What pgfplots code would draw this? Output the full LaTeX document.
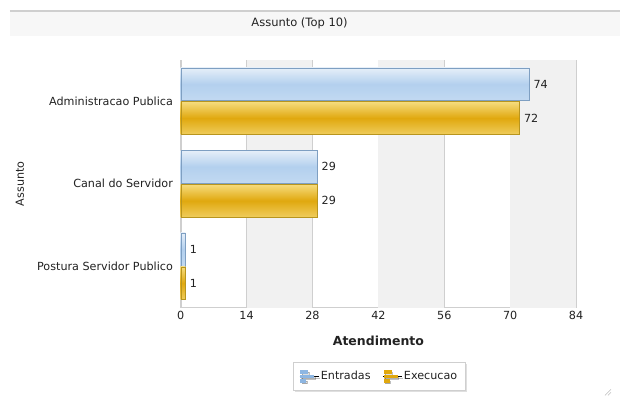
\documentclass[border=0pt]{standalone}
\usepackage{pgfplots}
\pgfplotsset{compat=1.18}
\usepackage{fontspec}
\setmainfont{DejaVu Sans}
\usetikzlibrary{shadows}

\definecolor{bluefill}{HTML}{B3D0EE}
\definecolor{bluetop}{HTML}{E6EFF9}
\definecolor{blueedge}{HTML}{7E9FC2}
\definecolor{blueicon}{HTML}{8DB6E2}
\definecolor{yelfill}{HTML}{E0A80E}
\definecolor{yeltop}{HTML}{F6DC7E}
\definecolor{yeledge}{HTML}{B8951E}
\definecolor{band}{HTML}{F1F1F1}
\definecolor{gridc}{HTML}{CFCFCF}
\definecolor{txt}{HTML}{222222}

% small bar-chart legend icon
\newcommand{\legicon}[1]{%
  \path (-1pt,0pt) -- (18pt,0pt);
  \fill[#1] (0pt,3pt) rectangle (7pt,5.8pt);
  \fill[#1] (0pt,-1.3pt) rectangle (13pt,1.4pt);
  \fill[#1] (0pt,-5.8pt) rectangle (5pt,-3pt);
}

\pgfplotsset{
  blue bar/.style={draw=blueedge, top color=bluetop, bottom color=bluefill!80!white,
                   middle color=bluefill, bar shift=17pt, fill=bluefill, forget plot},
  yel bar/.style={draw=yeledge, top color=yeltop, bottom color=yeltop!70!yelfill,
                  middle color=yelfill, bar shift=-17pt, fill=yelfill, forget plot},
}

\begin{document}
\begin{tikzpicture}[font=\fontsize{11.2}{13}\selectfont, text=txt]
  % canvas 621 x 402
  \fill[white] (0,0) rectangle (621pt,402pt);
  % title band
  \fill[band!60] (10pt,366pt) rectangle (621pt,390pt);
  \draw[gridc, line width=2pt] (10pt,391pt) -- (621pt,391pt);
  \node at (300pt,379pt) {\fontsize{11.5}{13}\selectfont Assunto (Top 10)};

  \begin{axis}[
      at={(181pt,94pt)}, anchor=south west,
      scale only axis,
      width=396pt, height=248pt,
      xmin=0, xmax=84,
      ymin=-0.5, ymax=2.5,
      xtick={0,14,28,42,56,70,84},
      ytick={0,1,2},
      yticklabels={Postura Servidor Publico, Canal do Servidor, Administracao Publica},
      /pgf/number format/assume math mode=true,
      tick style={draw=none},
      axis line style={draw=gridc},
      axis x line*=bottom,
      axis y line*=left,
      xmajorgrids=true,
      grid style={gridc, line width=0.8pt},
      xlabel={Atendimento},
      xlabel style={at={(axis description cs:0.5,-0.133)}, anchor=center,
                    font=\bfseries\fontsize{12.5}{14}\selectfont},
      ylabel={Assunto},
      ylabel style={at={(axis description cs:-0.407,0.5)}, anchor=center},
      xbar,
      bar width=33pt,
      nodes near coords,
      nodes near coords style={anchor=west, xshift=1pt},
      legend style={at={(axis description cs:0.5025,-0.278)}, anchor=center,
                    legend columns=2, draw=gridc, fill=white,
                    drop shadow={opacity=0.25, shadow xshift=1.5pt, shadow yshift=-1.5pt},
                    font=\fontsize{11.2}{13}\selectfont,
                    /tikz/every even column/.append style={column sep=10pt},
                    inner xsep=6pt, inner ysep=7pt},
    ]
    % alternating background bands
    \fill[band] (axis cs:14,-0.5) rectangle (axis cs:28,2.5);
    \fill[band] (axis cs:42,-0.5) rectangle (axis cs:56,2.5);
    \fill[band] (axis cs:70,-0.5) rectangle (axis cs:84,2.5);

    % Entradas
    \addplot[blue bar] coordinates {(74,2)};
    \addplot[blue bar] coordinates {(29,1)};
    \addplot[blue bar] coordinates {(1,0)};
    % Execucao
    \addplot[yel bar] coordinates {(72,2)};
    \addplot[yel bar] coordinates {(29,1)};
    \addplot[yel bar] coordinates {(1,0)};

    \addlegendimage{legend image code/.code={\legicon{blueicon}}}
    \addlegendentry{Entradas}
    \addlegendimage{legend image code/.code={\legicon{yelfill}}}
    \addlegendentry{Execucao}
  \end{axis}
  % resize grip
  \draw[gray!70] (606pt,6pt) -- (612pt,12pt) (609pt,6pt) -- (612pt,9pt);
\end{tikzpicture}
\end{document}
